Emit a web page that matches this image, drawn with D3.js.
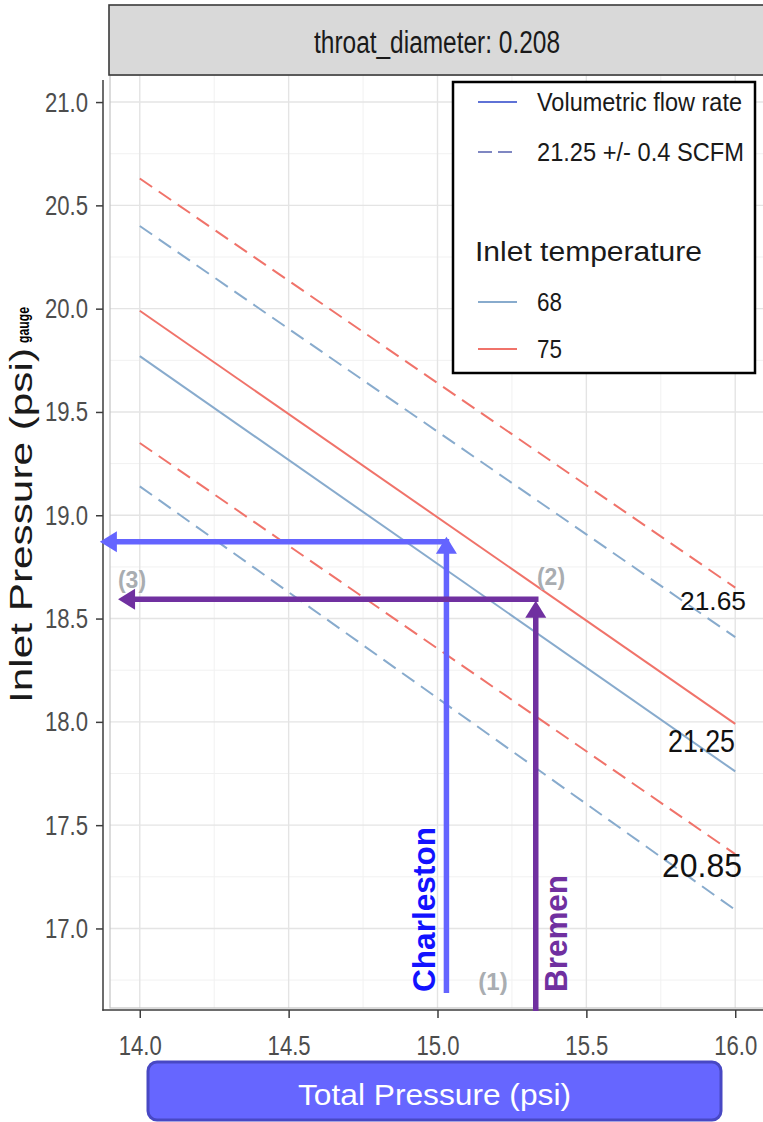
<!DOCTYPE html>
<html>
<head>
<meta charset="utf-8">
<script src="https://cdn.jsdelivr.net/npm/d3@7"></script>
<style>
  body { margin: 0; background: #fff; }
  svg { display: block; }
  text { font-family: "Liberation Sans", Arial, Helvetica, sans-serif; }
</style>
</head>
<body>
<svg id="chart" width="763" height="1122"></svg>
<script>
// Inlet pressure needed for a given volumetric flow, 0.208 in throat
const facetLabel = "throat_diameter: 0.208";
const totalPressure = [14.0, 16.0];                 // psi, x end points of each contour
const flowRates = [20.85, 21.25, 21.65];             // SCFM
const inlet68 = [[19.14, 17.09], [19.77, 17.76], [20.40, 18.41]]; // psi gauge
const inlet75 = [[19.35, 17.36], [19.99, 17.99], [20.63, 18.65]];
const temperatures = ["68", "75"];
const xTicks = [14.0, 14.5, 15.0, 15.5, 16.0];
const yTicks = [17.0, 17.5, 18.0, 18.5, 19.0, 19.5, 20.0, 20.5, 21.0];
const legendLines = ["Volumetric flow rate", "21.25 +/- 0.4 SCFM"];

// Operating points at two sites
const sites = ["Charleston", "Bremen"];
const siteTotal = [15.03, 15.33];
const siteInlet = [18.872, 18.594];
const siteFloor = [16.687, 16.60];
const siteTip = [18.896, 18.586];
const siteReadout = [13.866, 13.927];
const stepLabels = ["(1)", "(2)", "(3)"];

const svg = d3.select("#chart");
const W = 763, H = 1122;
const panel = { left: 110, right: 765, top: 75, bottom: 1008 };

const x = d3.scaleLinear().domain([13.9, 16.1]).range([panel.left, panel.right]);
const y = d3.scaleLinear().domain([16.615, 21.131]).range([panel.bottom, panel.top]);

const red = "#F0736A", blue = "#88ABCD";
const tempColor = d3.scaleOrdinal().domain(temperatures).range([blue, red]);

svg.append("rect").attr("width", W).attr("height", H).attr("fill", "#fff");

// clip for plotted lines
svg.append("clipPath").attr("id", "panelClip")
  .append("rect")
  .attr("x", panel.left).attr("y", panel.top)
  .attr("width", panel.right - panel.left).attr("height", panel.bottom - panel.top);

// grid
const grid = svg.append("g");
const xMinor = d3.range(14.25, 16.1, 0.5);
const yMinor = d3.range(16.75, 21.1, 0.5);
grid.selectAll(".xm").data(xMinor).join("line")
  .attr("x1", d => x(d)).attr("x2", d => x(d))
  .attr("y1", panel.top).attr("y2", panel.bottom)
  .attr("stroke", "#f1f1f1").attr("stroke-width", 1);
grid.selectAll(".ym").data(yMinor).join("line")
  .attr("y1", d => y(d)).attr("y2", d => y(d))
  .attr("x1", panel.left).attr("x2", panel.right)
  .attr("stroke", "#f1f1f1").attr("stroke-width", 1);
grid.selectAll(".xM").data(xTicks).join("line")
  .attr("x1", d => x(d)).attr("x2", d => x(d))
  .attr("y1", panel.top).attr("y2", panel.bottom)
  .attr("stroke", "#e4e4e4").attr("stroke-width", 1.4);
grid.selectAll(".yM").data(yTicks).join("line")
  .attr("y1", d => y(d)).attr("y2", d => y(d))
  .attr("x1", panel.left).attr("x2", panel.right)
  .attr("stroke", "#e4e4e4").attr("stroke-width", 1.4);

// panel border
svg.append("rect")
  .attr("x", panel.left).attr("y", panel.top)
  .attr("width", panel.right - panel.left).attr("height", panel.bottom - panel.top)
  .attr("fill", "none").attr("stroke", "#c4c4c4").attr("stroke-width", 1.2);

// facet strip
svg.append("rect")
  .attr("x", 109).attr("y", 5).attr("width", 660).attr("height", 70)
  .attr("fill", "#d9d9d9").attr("stroke", "#3a3a3a").attr("stroke-width", 1.6);
svg.append("text")
  .attr("x", 437).attr("y", 53)
  .attr("text-anchor", "middle")
  .attr("font-size", 31).attr("fill", "#1a1a1a")
  .attr("textLength", 246).attr("lengthAdjust", "spacingAndGlyphs")
  .text(facetLabel);

// contour lines
const contour = d3.line()
  .x((d, i) => x(totalPressure[i]))
  .y(d => y(d));
const lineGroup = svg.append("g").attr("clip-path", "url(#panelClip)");
const series = [];
temperatures.forEach((t, ti) => {
  const vals = ti === 0 ? inlet68 : inlet75;
  flowRates.forEach((f, fi) => series.push({ temp: t, flow: f, values: vals[fi] }));
});
lineGroup.selectAll("path").data(series).join("path")
  .attr("d", d => contour(d.values))
  .attr("fill", "none")
  .attr("stroke", d => tempColor(d.temp))
  .attr("stroke-width", 2)
  .attr("stroke-dasharray", d => d.flow === 21.25 ? null : "15,8");

// flow-rate labels at the right end
const flowTextPos = {
  20.85: { x: 662, y: 877, size: 33, len: 80 },
  21.25: { x: 668, y: 752, size: 32, len: 67 },
  21.65: { x: 680, y: 610, size: 25, len: 66 }
};
svg.selectAll(".flowLbl").data(flowRates).join("text")
  .attr("x", d => flowTextPos[d].x)
  .attr("y", d => flowTextPos[d].y)
  .attr("font-size", d => flowTextPos[d].size)
  .attr("textLength", d => flowTextPos[d].len)
  .attr("lengthAdjust", "spacingAndGlyphs")
  .attr("fill", "#111")
  .text(d => d3.format(".2f")(d));

// axes
const axisColor = "#3d3d3d";
const squeeze = 0.79;   // tick labels are set in a narrow face
const yAxis = svg.append("g").attr("transform", "translate(103,0)")
  .call(d3.axisLeft(y).tickValues(yTicks).tickFormat(d3.format(".1f")).tickSize(7).tickPadding(8));
const xAxis = svg.append("g").attr("transform", "translate(0,1010)")
  .call(d3.axisBottom(x).tickValues(xTicks).tickFormat(d3.format(".1f")).tickSize(8).tickPadding(17));
[yAxis, xAxis].forEach(g => {
  g.select(".domain").remove();
  g.selectAll(".tick line").attr("stroke", axisColor).attr("stroke-width", 1.5);
  g.selectAll(".tick text")
    .attr("font-size", 28).attr("fill", "#4d4d4d")
    .attr("font-family", "Liberation Sans, Arial, sans-serif");
});
yAxis.selectAll(".tick text")
  .attr("x", -15 / squeeze)
  .attr("transform", `scale(${squeeze},1)`);
xAxis.selectAll(".tick text")
  .attr("transform", `scale(${squeeze},1)`);
svg.append("line").attr("x1", 103).attr("x2", 103).attr("y1", 80).attr("y2", 1010.7)
  .attr("stroke", axisColor).attr("stroke-width", 1.5);
svg.append("line").attr("x1", 102.3).attr("x2", 763).attr("y1", 1010).attr("y2", 1010)
  .attr("stroke", axisColor).attr("stroke-width", 1.5);

// y axis title
svg.append("text")
  .attr("transform", "translate(32,703) rotate(-90)")
  .attr("font-size", 31).attr("fill", "#1a1a1a")
  .attr("textLength", 355).attr("lengthAdjust", "spacingAndGlyphs")
  .text("Inlet Pressure (psi)");
svg.append("text")
  .attr("transform", "translate(29,343) rotate(-90)")
  .attr("font-size", 16).attr("font-weight", "bold").attr("fill", "#000")
  .attr("textLength", 36).attr("lengthAdjust", "spacingAndGlyphs")
  .text("gauge");

// legend
const lg = svg.append("g");
lg.append("rect").attr("x", 453).attr("y", 82).attr("width", 302).attr("height", 291)
  .attr("fill", "#fff").attr("stroke", "#000").attr("stroke-width", 2.5);
const keyX1 = 478, keyX2 = 517, txtX = 537;
const lineKeyY = [102, 152];
lg.selectAll(".k1").data(legendLines).join("line")
  .attr("x1", keyX1).attr("x2", keyX2)
  .attr("y1", (d, i) => lineKeyY[i]).attr("y2", (d, i) => lineKeyY[i])
  .attr("stroke", (d, i) => i === 0 ? "#5f72d6" : "#7f87c2")
  .attr("stroke-width", 2)
  .attr("stroke-dasharray", (d, i) => i === 0 ? null : "14,6");
const lineTxtLen = [205, 207];
lg.selectAll(".t1").data(legendLines).join("text")
  .attr("x", txtX).attr("y", (d, i) => lineKeyY[i] + 9)
  .attr("font-size", 25).attr("fill", "#1a1a1a")
  .attr("textLength", (d, i) => lineTxtLen[i]).attr("lengthAdjust", "spacingAndGlyphs")
  .text(d => d);
lg.append("text").attr("x", 475).attr("y", 261)
  .attr("font-size", 27).attr("fill", "#1a1a1a")
  .attr("textLength", 227).attr("lengthAdjust", "spacingAndGlyphs")
  .text("Inlet temperature");
const tempKeyY = [302, 349];
lg.selectAll(".k2").data(temperatures).join("line")
  .attr("x1", keyX1).attr("x2", keyX2)
  .attr("y1", (d, i) => tempKeyY[i]).attr("y2", (d, i) => tempKeyY[i])
  .attr("stroke", d => tempColor(d)).attr("stroke-width", 2);
lg.selectAll(".t2").data(temperatures).join("text")
  .attr("x", txtX).attr("y", (d, i) => tempKeyY[i] + 9)
  .attr("font-size", 25).attr("fill", "#1a1a1a")
  .attr("textLength", 25).attr("lengthAdjust", "spacingAndGlyphs")
  .text(d => d);

// site read-off arrows
const siteLine = ["#6464ff", "#7030a0"];
const siteText = ["#1212ff", "#7030a0"];
const lw = 5.5, headW = 21, headL = 17;
function arrowUp(g, cx, y0, yTip, color) {
  g.append("line").attr("x1", cx).attr("x2", cx).attr("y1", y0).attr("y2", yTip + headL - 1)
    .attr("stroke", color).attr("stroke-width", lw);
  g.append("path")
    .attr("d", `M${cx},${yTip} L${cx - headW / 2},${yTip + headL} L${cx + headW / 2},${yTip + headL} Z`)
    .attr("fill", color);
}
function arrowLeft(g, x0, xTip, cy, color) {
  g.append("line").attr("x1", x0).attr("x2", xTip + headL - 1).attr("y1", cy).attr("y2", cy)
    .attr("stroke", color).attr("stroke-width", lw);
  g.append("path")
    .attr("d", `M${xTip},${cy} L${xTip + headL},${cy - headW / 2} L${xTip + headL},${cy + headW / 2} Z`)
    .attr("fill", color);
}
const ag = svg.append("g");
sites.forEach((s, i) => {
  const cx = x(siteTotal[i]);
  arrowLeft(ag, cx + lw / 2, x(siteReadout[i]), y(siteInlet[i]), siteLine[i]);
  arrowUp(ag, cx, y(siteFloor[i]), y(siteTip[i]), siteLine[i]);
});
const siteTextX = [435, 567];
const siteTextLen = [165, 117];
ag.selectAll(".site").data(sites).join("text")
  .attr("transform", (d, i) => `translate(${siteTextX[i]},992) rotate(-90)`)
  .attr("font-size", 31).attr("font-weight", "bold")
  .attr("fill", (d, i) => siteText[i])
  .attr("textLength", (d, i) => siteTextLen[i]).attr("lengthAdjust", "spacingAndGlyphs")
  .text(d => d);

// step markers
const stepPos = [[493, 990, 24], [551, 585, 23], [132, 588, 23]];
ag.selectAll(".step").data(stepLabels).join("text")
  .attr("x", (d, i) => stepPos[i][0]).attr("y", (d, i) => stepPos[i][1])
  .attr("font-size", (d, i) => stepPos[i][2])
  .attr("font-weight", "bold").attr("fill", "#a9adb1")
  .attr("text-anchor", "middle")
  .text(d => d);

// x axis title box
svg.append("rect").attr("x", 148).attr("y", 1062).attr("width", 573).attr("height", 58)
  .attr("rx", 9).attr("fill", "#6666ff").attr("stroke", "#4848c4").attr("stroke-width", 3);
svg.append("text").attr("x", 434.5).attr("y", 1105)
  .attr("text-anchor", "middle").attr("font-size", 30).attr("fill", "#fff")
  .attr("textLength", 273).attr("lengthAdjust", "spacingAndGlyphs")
  .text("Total Pressure (psi)");
</script>
</body>
</html>
